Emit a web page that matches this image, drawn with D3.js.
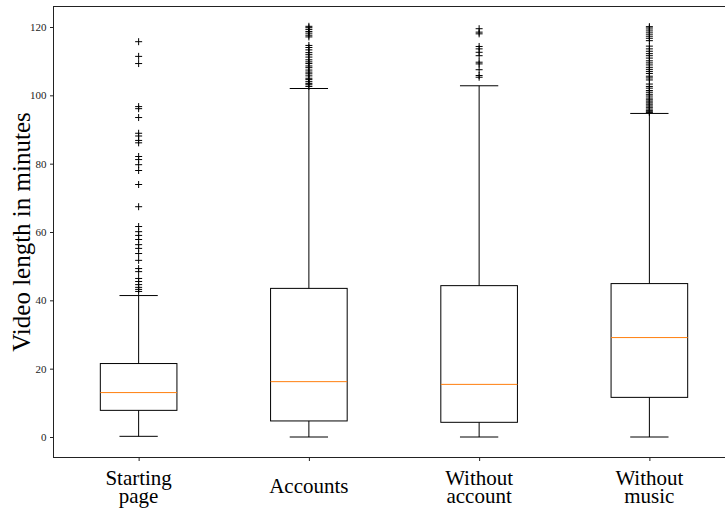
<!DOCTYPE html>
<html>
<head>
<meta charset="utf-8">
<script src="https://cdn.jsdelivr.net/npm/d3@7"></script>
<style>
  body { margin: 0; background: #fff; }
  svg { display: block; }
</style>
</head>
<body>
<div id="chart"></div>
<script>
// box plot stats (minutes)
var categories = [["Starting", "page"], ["Accounts"], ["Without", "account"], ["Without", "music"]];
var whiskerLow = [0.2, 0, 0, 0];
var q1 = [7.8, 4.7, 4.3, 11.6];
var medians = [13.0, 16.2, 15.4, 29.1];
var q3 = [21.5, 43.5, 44.3, 44.9];
var whiskerHigh = [41.4, 102.0, 102.8, 94.7];
var outliers = [
    [115.7, 111.4, 109.3, 96.7, 96.1, 93.5, 88.9, 88.1, 86.8, 86.1, 82.1, 81.2, 79.7, 78.0, 73.9, 67.4,
     61.6, 60.1, 59.0, 57.8, 56.3, 55.2, 53.7, 51.7, 49.3, 48.4, 46.4, 45.5, 44.6, 43.8, 43.2, 42.6],
    [102.6, 103.1, 103.5, 104.0, 104.6, 105.0, 105.7, 106.3, 106.8, 107.4, 108.1, 108.6, 109.3, 109.8,
     110.4, 111.2, 111.9, 112.5, 113.3, 114.0, 114.6, 117.1, 117.6, 118.2, 118.7, 119.3, 119.8, 120.2],
    [105.3, 105.8, 107.5, 109.2, 109.7, 111.6, 112.6, 113.6, 114.3, 118.0, 118.5, 119.5],
    [95.0, 95.2, 95.6, 96.0, 96.5, 96.9, 97.4, 97.8, 98.3, 98.7, 99.2, 99.8, 100.3, 100.9, 101.4, 102.1, 102.6,
     103.3, 104.5, 105.1, 105.6, 106.4, 107.0, 107.6, 108.2, 108.9, 109.5, 110.1, 110.9, 111.6, 112.2,
     112.9, 113.6, 114.4, 116.0, 116.7, 117.3, 117.9, 118.5, 119.1, 119.7, 120.1]
];
var yTicks = [0, 20, 40, 60, 80, 100, 120];

var width = 725, height = 509;
// plot area edges (right edge runs past the window, like the cropped original)
var pLeft = 53.5, pTop = 6.5, pRight = 734.5, pBottom = 457.5;

var svg = d3.select("#chart").append("svg")
    .attr("width", width)
    .attr("height", height);

var x = d3.scaleLinear().domain([0.5, 4.5]).range([pLeft, pRight]);
var y = d3.scaleLinear().domain([-6, 126]).range([pBottom, pTop]);

var boxW = x(1.45) - x(1);   // widths 0.45 like matplotlib
var capW = boxW / 2;

// axes
var yAxis = svg.append("g")
    .attr("transform", "translate(" + pLeft + ",0)")
    .call(d3.axisLeft(y).tickValues(yTicks).tickSize(3.5).tickPadding(3.5));
yAxis.select(".domain").remove();
yAxis.selectAll("line").attr("stroke", "#222");
yAxis.selectAll("text")
    .style("font-family", "'Liberation Serif', serif")
    .style("font-size", "11px")
    .attr("fill", "#222");

var xAxis = svg.append("g")
    .attr("transform", "translate(0," + pBottom + ")")
    .call(d3.axisBottom(x).tickValues([1, 2, 3, 4]).tickSize(3.5).tickFormat(""));
xAxis.select(".domain").remove();
xAxis.selectAll("line").attr("stroke", "#222");

// frame
svg.append("rect")
    .attr("x", pLeft).attr("y", pTop)
    .attr("width", pRight - pLeft).attr("height", pBottom - pTop)
    .attr("fill", "none").attr("stroke", "#222").attr("stroke-width", 1);

// category labels, two lines
categories.forEach(function(lines, i) {
    var t = svg.append("text")
        .attr("x", x(i + 1))
        .attr("text-anchor", "middle")
        .style("font-family", "'Liberation Serif', serif")
        .style("font-size", "21px")
        .attr("fill", "#000");
    var y0 = lines.length == 1 ? 493 : 485;
    lines.forEach(function(l, j) {
        t.append("tspan").attr("x", x(i + 1)).attr("y", y0 + j * 18).text(l);
    });
});

svg.append("text")
    .attr("transform", "translate(30," + ((pTop + pBottom) / 2) + ") rotate(-90)")
    .attr("text-anchor", "middle")
    .style("font-family", "'Liberation Serif', serif")
    .style("font-size", "25px")
    .text("Video length in minutes");

// boxes
var g = svg.append("g");
categories.forEach(function(c, i) {
    var cx = x(i + 1);
    var bg = g.append("g");

    // whiskers
    bg.append("line")
        .attr("x1", cx).attr("x2", cx)
        .attr("y1", y(whiskerLow[i])).attr("y2", y(q1[i]))
        .attr("stroke", "#000");
    bg.append("line")
        .attr("x1", cx).attr("x2", cx)
        .attr("y1", y(q3[i])).attr("y2", y(whiskerHigh[i]))
        .attr("stroke", "#000");
    // caps
    [whiskerLow[i], whiskerHigh[i]].forEach(function(v) {
        bg.append("line")
            .attr("x1", cx - capW / 2).attr("x2", cx + capW / 2)
            .attr("y1", y(v)).attr("y2", y(v))
            .attr("stroke", "#000");
    });
    // box
    bg.append("rect")
        .attr("x", cx - boxW / 2).attr("width", boxW)
        .attr("y", y(q3[i])).attr("height", y(q1[i]) - y(q3[i]))
        .attr("fill", "none").attr("stroke", "#000");
    // median
    bg.append("line")
        .attr("x1", cx - boxW / 2).attr("x2", cx + boxW / 2)
        .attr("y1", y(medians[i])).attr("y2", y(medians[i]))
        .attr("stroke", "#ff7f0e");
    // fliers as +
    bg.selectAll("path.flier")
        .data(outliers[i])
        .enter().append("path")
        .attr("class", "flier")
        .attr("d", function(v) {
            var py = y(v);
            return "M" + (cx - 3.5) + "," + py + "H" + (cx + 3.5) +
                   "M" + cx + "," + (py - 3.5) + "V" + (py + 3.5);
        })
        .attr("stroke", "#000")
        .attr("stroke-width", 1);
});
</script>
</body>
</html>
